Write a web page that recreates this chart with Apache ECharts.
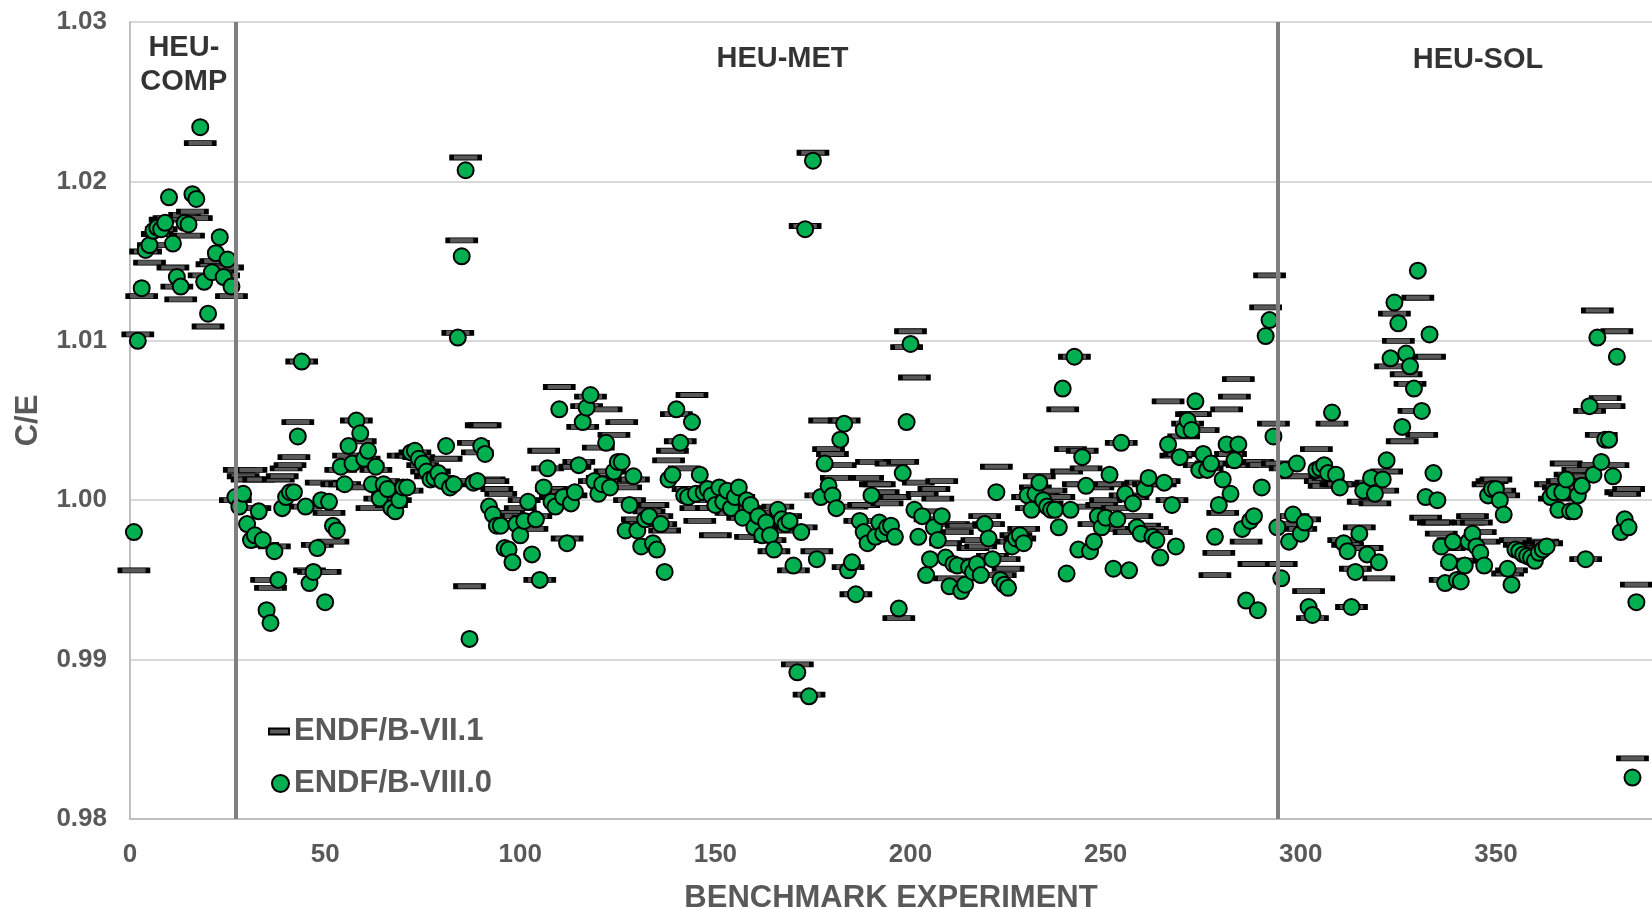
<!DOCTYPE html>
<html>
<head>
<meta charset="utf-8">
<title>C/E by benchmark experiment</title>
<script src="https://cdn.jsdelivr.net/npm/echarts@6/dist/echarts.min.js"></script>
<style>
  html, body { margin: 0; padding: 0; background: #ffffff; }
  #chart { width: 1652px; height: 909px; }
</style>
</head>
<body>
<div id="chart"></div>
<script>
// C/E values per benchmark experiment (benchmark number = position + 1)
const endf71 = [
  0.9956, 1.0104, 1.0128, 1.0156, 1.0149, 1.0160, 1.0167, 1.0170, 1.0176, 1.0177,
  1.0146, 1.0134, 1.0126, 1.0179, 1.0166, 1.0181, 1.0177, 1.0224, 1.0141, 1.0109,
  1.0148, 1.0150, 1.0143, 1.0141, 1.0146, 1.0128, 1.0000, 1.0019, 1.0015, 1.0013,
  1.0019, 0.9995, 1.0013, 0.9972, 0.9950, 0.9945, 0.9971, 1.0013, 1.0015, 1.0020,
  1.0022, 1.0027, 1.0049, 1.0087, 0.9996, 0.9956, 0.9955, 0.9972, 1.0011, 0.9955,
  0.9992, 0.9974, 1.0010, 1.0019, 1.0010, 1.0028, 1.0008, 1.0050, 1.0037, 1.0026,
  1.0022, 0.9995, 1.0019, 1.0001, 1.0012, 1.0004, 0.9997, 1.0000, 1.0006, 1.0028,
  1.0006, 1.0028, 1.0030, 1.0027, 1.0022, 1.0018, 1.0015, 1.0018, 1.0014, 1.0011,
  1.0026, 1.0010, 1.0012, 1.0105, 1.0163, 1.0215, 0.9946, 1.0036, 1.0030, 1.0047,
  1.0047, 1.0013, 1.0012, 1.0007, 1.0004, 0.9992, 0.9992, 0.9985, 0.9990, 0.9995,
  1.0000, 0.9989, 0.9982, 0.9990, 0.9950, 1.0031, 1.0020, 1.0007, 1.0002, 1.0071,
  1.0005, 0.9976, 1.0003, 1.0021, 1.0024, 1.0046, 1.0059, 1.0065, 1.0012, 1.0033,
  1.0014, 1.0057, 1.0018, 1.0041, 1.0012, 1.0049, 1.0008, 1.0000, 1.0013, 0.9988,
  0.9985, 0.9995, 0.9993, 0.9997, 0.9990, 0.9985, 0.9981, 1.0025, 1.0031, 1.0054,
  1.0037, 1.0020, 1.0007, 1.0066, 0.9995, 0.9987, 1.0005, 1.0000, 0.9995, 0.9978,
  1.0004, 0.9996, 1.0003, 0.9992, 1.0000, 1.0002, 0.9989, 0.9995, 0.9977, 0.9987,
  0.9992, 0.9983, 0.9985, 0.9975, 0.9968, 0.9996, 0.9986, 0.9990, 0.9981, 0.9956,
  0.9897, 0.9983, 1.0172, 0.9878, 1.0218, 0.9968, 1.0003, 1.0050, 1.0032, 1.0029,
  1.0014, 1.0022, 1.0050, 0.9958, 0.9996, 0.9941, 0.9987, 0.9997, 1.0014, 1.0024,
  1.0010, 1.0010, 1.0005, 0.9998, 1.0023, 1.0002, 0.9926, 1.0024, 1.0096, 1.0106,
  1.0077, 1.0011, 1.0004, 0.9993, 0.9988, 1.0007, 1.0001, 1.0012, 0.9973, 0.9951,
  0.9985, 0.9980, 0.9984, 0.9959, 0.9962, 0.9970, 0.9975, 0.9971, 0.9990, 0.9985,
  0.9965, 1.0021, 0.9953, 0.9963, 0.9957, 0.9974, 0.9978, 0.9976, 0.9982, 1.0002,
  0.9995, 1.0008, 1.0015, 1.0003, 0.9998, 1.0006, 0.9995, 1.0002, 1.0057, 1.0018,
  1.0032, 1.0090, 1.0010, 1.0031, 1.0020, 0.9996, 0.9985, 1.0008, 0.9997, 1.0000,
  1.0010, 0.9982, 0.9995, 1.0036, 1.0003, 0.9980, 1.0002, 0.9990, 1.0011, 0.9984,
  1.0010, 0.9982, 0.9980, 1.0010, 1.0012, 1.0062, 1.0000, 1.0028, 1.0029, 1.0040,
  1.0048, 1.0054, 1.0054, 1.0022, 1.0044, 1.0020, 1.0023, 0.9953, 0.9967, 0.9992,
  1.0057, 1.0029, 1.0065, 1.0076, 1.0022, 0.9974, 1.0024, 0.9960, 1.0024, 1.0022,
  1.0121, 1.0141, 1.0048, 1.0023, 0.9960, 1.0020, 0.9985, 0.9990, 1.0015, 0.9982,
  0.9988, 0.9943, 0.9926, 1.0032, 1.0012, 1.0009, 1.0014, 1.0048, 1.0010, 1.0010,
  0.9975, 0.9972, 0.9933, 0.9957, 0.9983, 0.9999, 0.9970, 1.0011, 0.9998, 0.9951,
  1.0006, 1.0018, 1.0084, 1.0117, 1.0100, 1.0037, 1.0079, 1.0073, 1.0056, 1.0127,
  1.0041, 0.9989, 1.0090, 0.9986, 0.9986, 0.9979, 0.9950, 0.9970, 0.9975, 0.9960,
  0.9962, 0.9975, 0.9986, 0.9990, 0.9986, 0.9980, 0.9974, 1.0010, 1.0012, 1.0013,
  1.0006, 1.0003, 0.9954, 0.9956, 0.9975, 0.9972, 0.9970, 0.9972, 0.9970, 0.9969,
  0.9973, 0.9974, 0.9973, 1.0010, 1.0001, 1.0008, 1.0012, 1.0023, 1.0016, 1.0008,
  1.0019, 1.0015, 0.9963, 1.0056, 1.0022, 1.0119, 1.0041, 1.0064, 1.0059, 1.0022,
  1.0106, 1.0005, 1.0004, 1.0007, 0.9838, 0.9947
];

const endf80 = [
  0.9980, 1.0100, 1.0133, 1.0157, 1.0160, 1.0169, 1.0171, 1.0170, 1.0174, 1.0190,
  1.0161, 1.0140, 1.0134, 1.0174, 1.0173, 1.0192, 1.0189, 1.0234, 1.0137, 1.0117,
  1.0143, 1.0155, 1.0165, 1.0140, 1.0151, 1.0134, 1.0002, 0.9996, 1.0004, 0.9985,
  0.9975, 0.9978, 0.9993, 0.9975, 0.9931, 0.9923, 0.9968, 0.9950, 0.9995, 1.0002,
  1.0005, 1.0005, 1.0040, 1.0087, 0.9996, 0.9948, 0.9955, 0.9970, 1.0000, 0.9936,
  0.9999, 0.9984, 0.9981, 1.0021, 1.0010, 1.0034, 1.0023, 1.0050, 1.0042, 1.0026,
  1.0031, 1.0010, 1.0021, 1.0001, 1.0010, 1.0007, 0.9995, 0.9993, 1.0000, 1.0008,
  1.0008, 1.0030, 1.0031, 1.0026, 1.0023, 1.0018, 1.0013, 1.0014, 1.0017, 1.0012,
  1.0034, 1.0008, 1.0010, 1.0102, 1.0153, 1.0207, 0.9913, 1.0011, 1.0012, 1.0034,
  1.0029, 0.9996, 0.9991, 0.9984, 0.9984, 0.9970, 0.9969, 0.9961, 0.9985, 0.9978,
  0.9987, 0.9999, 0.9966, 0.9988, 0.9950, 1.0008, 1.0020, 0.9999, 0.9996, 1.0057,
  1.0002, 0.9973, 0.9998, 1.0005, 1.0022, 1.0049, 1.0058, 1.0066, 1.0012, 1.0004,
  1.0010, 1.0036, 1.0008, 1.0018, 1.0024, 1.0024, 0.9981, 0.9997, 1.0015, 0.9981,
  0.9971, 0.9988, 0.9990, 0.9973, 0.9969, 0.9985, 0.9955, 1.0013, 1.0016, 1.0057,
  1.0036, 1.0003, 1.0002, 1.0049, 1.0004, 1.0016, 1.0005, 1.0007, 1.0003, 0.9997,
  1.0008, 0.9999, 1.0006, 0.9995, 1.0002, 1.0008, 0.9989, 1.0000, 0.9997, 0.9983,
  0.9990, 0.9978, 0.9986, 0.9978, 0.9969, 0.9994, 0.9988, 0.9985, 0.9987, 0.9959,
  0.9892, 0.9980, 1.0170, 0.9877, 1.0213, 0.9963, 1.0002, 1.0023, 1.0009, 1.0003,
  0.9995, 1.0038, 1.0048, 0.9956, 0.9961, 0.9941, 0.9987, 0.9980, 0.9973, 1.0003,
  0.9977, 0.9986, 0.9979, 0.9983, 0.9984, 0.9977, 0.9932, 1.0017, 1.0049, 1.0098,
  0.9994, 0.9977, 0.9990, 0.9953, 0.9963, 0.9983, 0.9975, 0.9990, 0.9964, 0.9946,
  0.9960, 0.9959, 0.9943, 0.9947, 0.9958, 0.9955, 0.9960, 0.9953, 0.9985, 0.9976,
  0.9963, 1.0005, 0.9950, 0.9947, 0.9945, 0.9971, 0.9976, 0.9978, 0.9973, 1.0003,
  0.9994, 1.0004, 1.0011, 1.0000, 0.9996, 0.9994, 0.9994, 0.9983, 1.0070, 0.9954,
  0.9994, 1.0090, 0.9969, 1.0027, 1.0009, 0.9968, 0.9974, 0.9990, 0.9983, 0.9989,
  1.0016, 0.9957, 0.9988, 1.0036, 1.0004, 0.9956, 0.9998, 0.9983, 0.9979, 1.0007,
  1.0014, 0.9977, 0.9975, 0.9964, 1.0011, 1.0035, 0.9997, 0.9971, 1.0027, 1.0044,
  1.0050, 1.0044, 1.0062, 1.0019, 1.0029, 1.0019, 1.0023, 0.9977, 0.9997, 1.0013,
  1.0035, 1.0004, 1.0025, 1.0035, 0.9982, 0.9937, 0.9987, 0.9990, 0.9931, 1.0008,
  1.0103, 1.0113, 1.0040, 0.9983, 0.9951, 1.0019, 0.9974, 0.9991, 1.0023, 0.9979,
  0.9986, 0.9933, 0.9928, 1.0019, 1.0020, 1.0022, 1.0017, 1.0055, 1.0016, 1.0008,
  0.9973, 0.9968, 0.9933, 0.9955, 0.9979, 1.0006, 0.9966, 1.0014, 1.0004, 0.9961,
  1.0013, 1.0025, 1.0089, 1.0124, 1.0111, 1.0046, 1.0092, 1.0084, 1.0070, 1.0144,
  1.0056, 1.0002, 1.0104, 1.0017, 1.0000, 0.9971, 0.9948, 0.9961, 0.9974, 0.9950,
  0.9949, 0.9959, 0.9974, 0.9979, 0.9971, 0.9967, 0.9959, 1.0003, 1.0007, 1.0007,
  1.0000, 0.9991, 0.9957, 0.9947, 0.9969, 0.9968, 0.9966, 0.9965, 0.9964, 0.9962,
  0.9967, 0.9969, 0.9971, 1.0002, 1.0005, 0.9994, 1.0005, 1.0013, 0.9993, 0.9993,
  1.0003, 1.0009, 0.9963, 1.0059, 1.0016, 1.0102, 1.0024, 1.0038, 1.0038, 1.0015,
  1.0090, 0.9980, 0.9988, 0.9983, 0.9826, 0.9936
];

// Benchmark numbers where one evaluation family ends and the next begins
const regionBoundaries = [27, 294];
const regionNames = ['HEU-\nCOMP', 'HEU-MET', 'HEU-SOL'];

// x-axis ticks and y-axis ticks
const xTicks = { min: 0, max: 390, step: 50 };
const yTicks = { min: 0.98, max: 1.03, step: 0.01 };

const FONT = '"Liberation Sans", Arial, Helvetica, sans-serif';
const GREY_TEXT = '#595959';

const pairs71 = endf71.map((v, i) => [i + 1, v]);
const pairs80 = endf80.map((v, i) => [i + 1, v]);

// anchor points (in data units) for the region captions along the top
const captionAnchors = [[13.8, 1.0273], [167.2, 1.0277], [345.4, 1.0276]];

const chart = echarts.init(document.getElementById('chart'), null, { renderer: 'canvas' });

chart.setOption({
  backgroundColor: '#ffffff',
  animation: false,
  grid: {
    left: 130, right: 0, top: 22, bottom: 90,
    containLabel: false,
    outerBoundsMode: 'none'
  },
  xAxis: {
    type: 'value',
    min: xTicks.min,
    max: xTicks.max,
    interval: xTicks.step,
    name: 'BENCHMARK EXPERIMENT',
    nameLocation: 'middle',
    nameGap: 64,
    nameTextStyle: { fontFamily: FONT, fontSize: 31, fontWeight: 'bold', color: GREY_TEXT },
    axisLine: { show: true, lineStyle: { color: '#bfbfbf', width: 2 } },
    axisTick: { show: false },
    splitLine: { show: false },
    axisLabel: {
      showMaxLabel: false,
      margin: 23,
      fontFamily: FONT, fontSize: 26, fontWeight: 'bold', color: GREY_TEXT
    }
  },
  yAxis: {
    type: 'value',
    min: yTicks.min,
    max: yTicks.max,
    interval: yTicks.step,
    name: 'C/E',
    nameLocation: 'middle',
    nameGap: 86,
    nameRotate: 90,
    nameTextStyle: { fontFamily: FONT, fontSize: 31, fontWeight: 'bold', color: GREY_TEXT },
    axisLine: { show: true, lineStyle: { color: '#bfbfbf', width: 2 } },
    axisTick: { show: false },
    splitLine: { show: true, lineStyle: { color: '#d9d9d9', width: 2 } },
    axisLabel: {
      margin: 23,
      formatter: v => v.toFixed(2),
      fontFamily: FONT, fontSize: 26, fontWeight: 'bold', color: GREY_TEXT
    }
  },
  legend: [
    {
      data: [{ name: 'ENDF/B-VII.1', icon: 'rect' }],
      left: 268, top: 716,
      itemWidth: 20, itemHeight: 6,
      padding: 0,
      selectedMode: false,
      textStyle: { fontFamily: FONT, fontSize: 31, fontWeight: 'bold', color: GREY_TEXT }
    },
    {
      data: [{ name: 'ENDF/B-VIII.0', icon: 'circle' }],
      left: 271, top: 768,
      itemWidth: 17, itemHeight: 17,
      padding: 0,
      selectedMode: false,
      textStyle: { fontFamily: FONT, fontSize: 31, fontWeight: 'bold', color: GREY_TEXT }
    }
  ],
  series: [
    {
      name: 'region-labels',
      type: 'scatter',
      silent: true,
      symbol: 'circle',
      symbolSize: 1,
      itemStyle: { color: 'rgba(255,255,255,0)' },
      data: captionAnchors.map((pt, i) => ({ value: pt, name: regionNames[i] })),
      label: {
        show: true,
        position: 'inside',
        formatter: p => p.name,
        fontFamily: FONT, fontSize: 29, fontWeight: 'bold', color: '#000000',
        lineHeight: 34, align: 'center', verticalAlign: 'middle'
      },
      z: 1
    },
    {
      name: 'ENDF/B-VII.1',
      type: 'scatter',
      symbol: 'rect',
      symbolSize: [28, 5],
      data: pairs71,
      itemStyle: { color: '#595959', borderColor: '#000000', borderWidth: 2, opacity: 1 },
      markLine: {
        silent: true,
        symbol: 'none',
        label: { show: false },
        lineStyle: { color: '#808080', width: 4, type: 'solid' },
        data: regionBoundaries.map(x => ({ xAxis: x }))
      },
      z: 2
    },
    {
      name: 'ENDF/B-VIII.0',
      type: 'scatter',
      symbol: 'circle',
      symbolSize: 16,
      data: pairs80,
      itemStyle: { color: '#00b050', borderColor: '#000000', borderWidth: 2, opacity: 1 },
      z: 3
    }
  ]
});
</script>
</body>
</html>
